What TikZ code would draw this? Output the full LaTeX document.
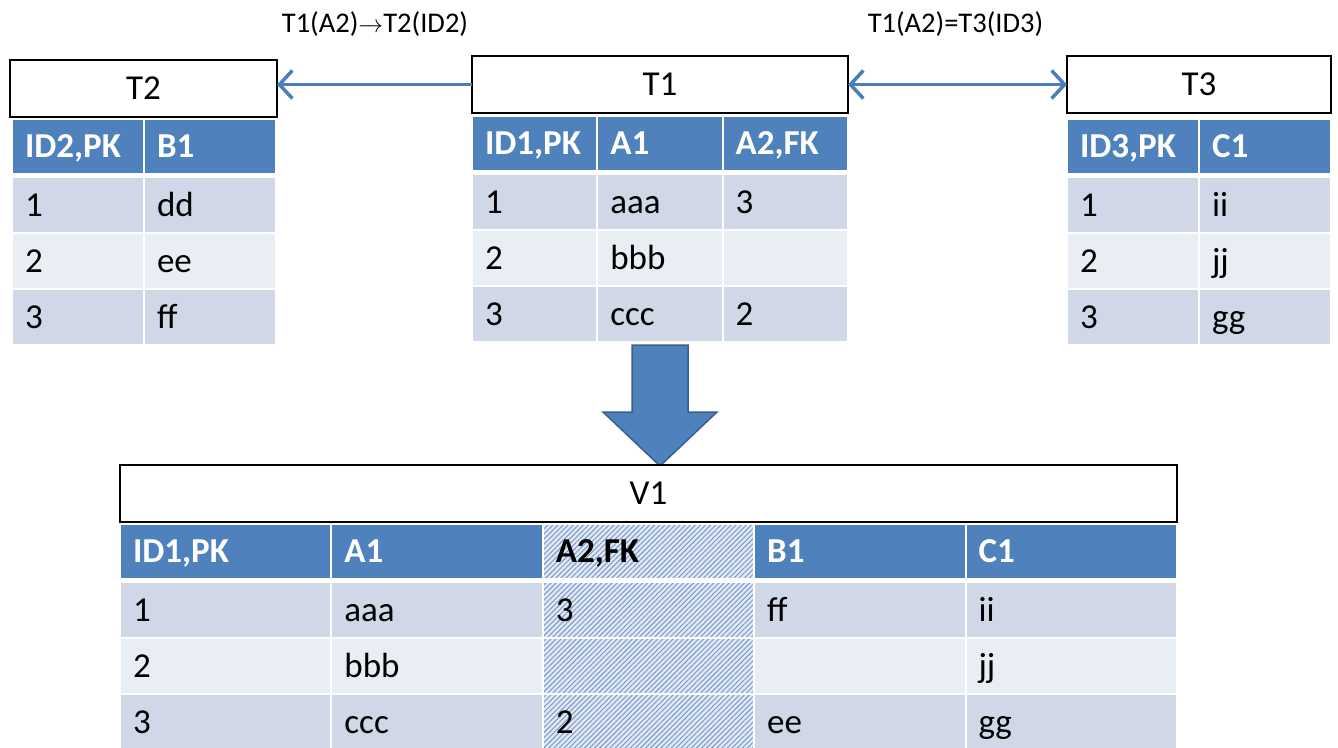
\documentclass[tikz,border=0pt]{standalone}
\usepackage{fontspec}
\setmainfont{Carlito}
\usepackage{tikz}
\usetikzlibrary{arrows.meta,positioning,patterns.meta}

\definecolor{hdrblue}{HTML}{4F81BD}
\definecolor{rowdark}{HTML}{D0D8E8}
\definecolor{rowlight}{HTML}{E9EDF4}
\definecolor{linkblue}{HTML}{4A7EBB}
\definecolor{mergeedge}{HTML}{3A5F8B}
\definecolor{hatchblue}{HTML}{7D9ECD}
\definecolor{hatchbg}{HTML}{E3E9F3}

\newcommand{\cellfont}{\fontsize{35}{40}\selectfont}
\newcommand{\labelfont}{\fontsize{28.5}{33}\selectfont}

\begin{document}
\begin{tikzpicture}[
    x=1pt, y=-1pt,
    every node/.style={font=\cellfont, inner sep=0pt, outer sep=0pt},
    title/.style={anchor=north west, draw=black, line width=1.8pt, fill=white,
      minimum height=57pt, text height=28pt, text depth=6pt},
    cell/.style={anchor=north west, draw=white, line width=2pt, align=left,
      inner xsep=13pt, minimum height=56pt, text height=28pt, text depth=6pt},
    hdr/.style={cell, fill=hdrblue, minimum height=55pt, text=white, font=\cellfont\bfseries},
    hatch/.style={cell, preaction={fill=hatchbg},
      pattern={Lines[angle=45, distance=3.6pt, line width=1.1pt]}, pattern color=hatchblue},
    narrow/.style={minimum width=132pt, text width=106pt},
    mid/.style={minimum width=125.33pt, text width=99.33pt},
    wide/.style={minimum width=211.4pt, text width=185.4pt},
    link/.style={draw=linkblue, line width=3.5pt},
    barb/.tip={Straight Barb[length=13pt, width=28pt]},
    lbl/.style={anchor=base, font=\labelfont},
    merge/.style={fill=hdrblue, draw=mergeedge, line width=1.5pt, line join=miter},
  ]
  \useasboundingbox (0,0) rectangle (1338,747);

  % ── T2 ───────────────────────────────────────────────────────────────────
  \node[title, minimum width=267pt] (t2) at (10,60) {T2};
  \node[hdr, narrow] (t2-h-1) at (12,119)  {ID2,PK};
  \node[hdr, narrow] (t2-h-2) at (144,119) {B1};
  \foreach \y/\a/\b/\shade [count=\r] in {177/1/dd/rowdark, 233/2/ee/rowlight, 289/3/ff/rowdark} {
    \node[cell, narrow, fill=\shade] (t2-\r-1) at (12,\y)  {\a};
    \node[cell, narrow, fill=\shade] (t2-\r-2) at (144,\y) {\b};
  }

  % ── T1 ───────────────────────────────────────────────────────────────────
  \node[title, minimum width=376pt] (t1) at (472,56) {T1};
  \node[hdr, mid] (t1-h-1) at (472,116)    {ID1,PK};
  \node[hdr, mid] (t1-h-2) at (597.33,116) {A1};
  \node[hdr, mid] (t1-h-3) at (722.67,116) {A2,FK};
  \foreach \y/\a/\b/\c/\shade [count=\r] in {174/1/aaa/3/rowdark, 230/2/bbb/{}/rowlight, 286/3/ccc/2/rowdark} {
    \node[cell, mid, fill=\shade] (t1-\r-1) at (472,\y)    {\a};
    \node[cell, mid, fill=\shade] (t1-\r-2) at (597.33,\y) {\b};
    \node[cell, mid, fill=\shade] (t1-\r-3) at (722.67,\y) {\c};
  }

  % ── T3 ───────────────────────────────────────────────────────────────────
  \node[title, minimum width=264pt] (t3) at (1067,56) {T3};
  \node[hdr, narrow] (t3-h-1) at (1067,119) {ID3,PK};
  \node[hdr, narrow] (t3-h-2) at (1199,119) {C1};
  \foreach \y/\a/\b/\shade [count=\r] in {177/1/ii/rowdark, 233/2/jj/rowlight, 289/3/gg/rowdark} {
    \node[cell, narrow, fill=\shade] (t3-\r-1) at (1067,\y) {\a};
    \node[cell, narrow, fill=\shade] (t3-\r-2) at (1199,\y) {\b};
  }

  % ── Links between tables ─────────────────────────────────────────────────
  \draw[link, -barb]     (t1.west) -- (t1.west -| t2.east);
  \draw[link, barb-barb] (t1.east) -- (t3.west);
  \node[lbl] (fk-t2) at (375,32)   {T1(A2)$\rightarrow$T2(ID2)};
  \node[lbl] (fk-t3) at (955.5,32) {T1(A2)=T3(ID3)};

  % ── Merge arrow ──────────────────────────────────────────────────────────
  \draw[merge] (632,345) -- (688,345) -- (688,412) -- (717,412)
    -- (660,466) -- (603,412) -- (632,412) -- cycle;

  % ── V1 ───────────────────────────────────────────────────────────────────
  \node[title, minimum width=1057pt] (v1) at (120,465) {V1};
  \node[hdr, wide]   (v1-h-1) at (120,524)   {ID1,PK};
  \node[hdr, wide]   (v1-h-2) at (331.4,524) {A1};
  \node[hatch, wide, minimum height=55pt, font=\cellfont\bfseries] (v1-h-3) at (542.8,524) {A2,FK};
  \node[hdr, wide]   (v1-h-4) at (754.2,524) {B1};
  \node[hdr, wide]   (v1-h-5) at (965.6,524) {C1};
  \foreach \y/\a/\b/\c/\d/\e/\shade [count=\r] in {582/1/aaa/3/ff/ii/rowdark, 638/2/bbb/{}/{}/jj/rowlight, 694/3/ccc/2/ee/gg/rowdark} {
    \node[cell, wide, fill=\shade] (v1-\r-1) at (120,\y)   {\a};
    \node[cell, wide, fill=\shade] (v1-\r-2) at (331.4,\y) {\b};
    \node[hatch, wide]             (v1-\r-3) at (542.8,\y) {\c};
    \node[cell, wide, fill=\shade] (v1-\r-4) at (754.2,\y) {\d};
    \node[cell, wide, fill=\shade] (v1-\r-5) at (965.6,\y) {\e};
  }
\end{tikzpicture}
\end{document}
